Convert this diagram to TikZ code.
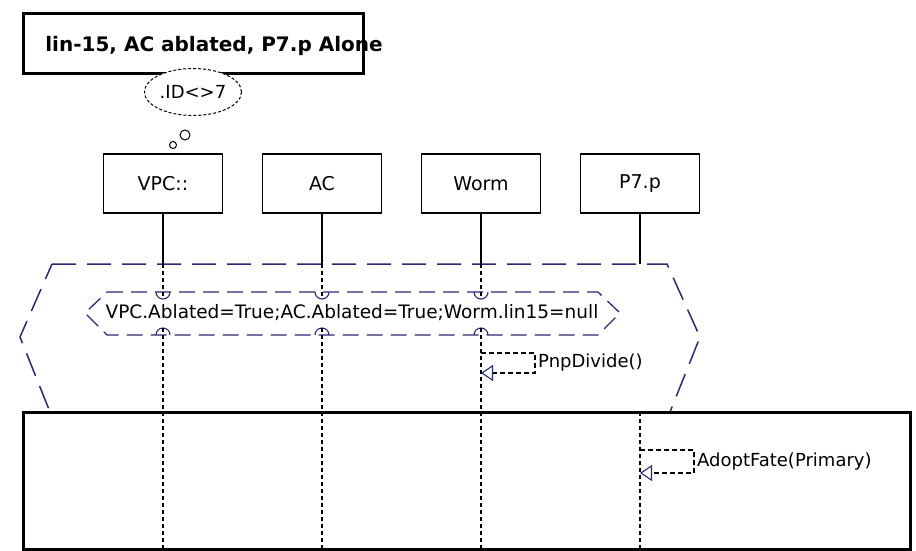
\documentclass[tikz,border=0pt]{standalone}
\usepackage{fontspec}
\setmainfont{DejaVu Sans}
\usetikzlibrary{arrows.meta,shapes.geometric}
\definecolor{navy}{RGB}{42,42,112}
\tikzset{
  >={Triangle[open,length=12pt,width=16pt,color=navy]},
  capframe/.style={draw, line width=3pt, minimum width=340pt, minimum height=60pt, inner sep=0pt},
  obj/.style={draw, line width=1.1pt, minimum width=119pt, minimum height=59pt, inner sep=0pt, font=\fontsize{19}{21}\selectfont},
  thought/.style={draw, ellipse, dash pattern=on 3pt off 2pt, line width=1pt, fill=white, minimum width=97pt, minimum height=47pt, inner sep=0pt, font=\fontsize{18}{20}\selectfont},
  bub/.style={draw, circle, line width=1pt, inner sep=0pt},
  frag/.style={draw, line width=3pt, minimum width=887pt, minimum height=137pt, inner sep=0pt},
  life/.style={line width=1.1pt},
  lifed/.style={line width=1.1pt, dash pattern=on 4pt off 3pt},
  region/.style={navy, line width=1.5pt, dash pattern=on 24pt off 11pt},
  inv/.style={navy, line width=1.3pt, dash pattern=on 16pt off 8pt},
  jump/.style={navy, line width=1.1pt},
  msg/.style={->, line width=1.1pt, dash pattern=on 5pt off 3pt},
  lbl/.style={anchor=west, inner sep=0pt, font=\fontsize{18}{20}\selectfont},
}

\begin{document}
\begin{tikzpicture}[x=1pt, y=-1pt]
  \useasboundingbox (0,0) rectangle (916,551);
  % title and thought bubble
  \node[font=\bfseries\fontsize{20}{22}\selectfont] (title) at (214,46) {lin-15, AC ablated, P7.p Alone};
  \node[capframe] (capbox) at (193,44) {};
  \node[thought] (cond) at (193,92) {.ID<>7};
  \node[bub, minimum size=10pt] (b1) at (185,135) {};
  \node[bub, minimum size=7pt] (b2) at (173,145) {};
  % objects
  \node[obj] (vpc)  at (163,183.5) {VPC::};
  \node[obj] (ac)   at (322,183.5) {AC};
  \node[obj] (worm) at (481,183.5) {Worm};
  \node[obj] (p7)   at (640,183.5) {P7.p};
  % levels
  \coordinate (rt) at (0,264);
  \coordinate (it) at (0,292);
  \coordinate (itc) at (0,299);
  \coordinate (ib) at (0,335);
  \coordinate (ibc) at (0,328);
  \coordinate (ft) at (0,412);
  \coordinate (fb) at (0,549);
  % region and state invariant
  \draw[region] (52,264) -- (667,264) -- (700,337) -- (670,412) -- (50,412) -- (20,337) -- cycle;
  \draw[inv] (107,292) -- (598,292) -- (620,313) -- (598,335) -- (107,335) -- (85,313) -- cycle;
  \node[font=\fontsize{18.5}{20}\selectfont] (state) at (352,313) {VPC.Ablated=True;AC.Ablated=True;Worm.lin15=null};
  % lifelines
  \foreach \o in {vpc,ac,worm} {
    \draw[life] (\o.south) -- (\o |- rt);
    \draw[lifed] (\o |- rt) -- (\o |- itc);
    \draw[jump] (\o |- it) ++(-7pt,0) arc (180:360:7pt);
    \draw[jump] (\o |- ib) ++(-7pt,0) arc (180:0:7pt);
    \draw[lifed] (\o |- ibc) -- (\o |- fb);
  }
  \draw[life] (p7.south) -- (p7 |- rt);
  \draw[lifed] (p7 |- ft) -- (p7 |- fb);
  % messages
  \coordinate (w1) at (worm |- 0,353);
  \coordinate (w2) at (worm |- 0,373);
  \draw[msg] (w1) -- (535,353) -- (535,373) -- (w2);
  \node[lbl] (pnp) at (538,363) {PnpDivide()};
  \coordinate (p1) at (p7 |- 0,450);
  \coordinate (p2) at (p7 |- 0,473);
  \draw[msg] (p1) -- (694,450) -- (694,473) -- (p2);
  \node[lbl] (adopt) at (697,462) {AdoptFate(Primary)};
  % fragment
  \node[frag] (alone) at (466.5,480.5) {};
\end{tikzpicture}
\end{document}
